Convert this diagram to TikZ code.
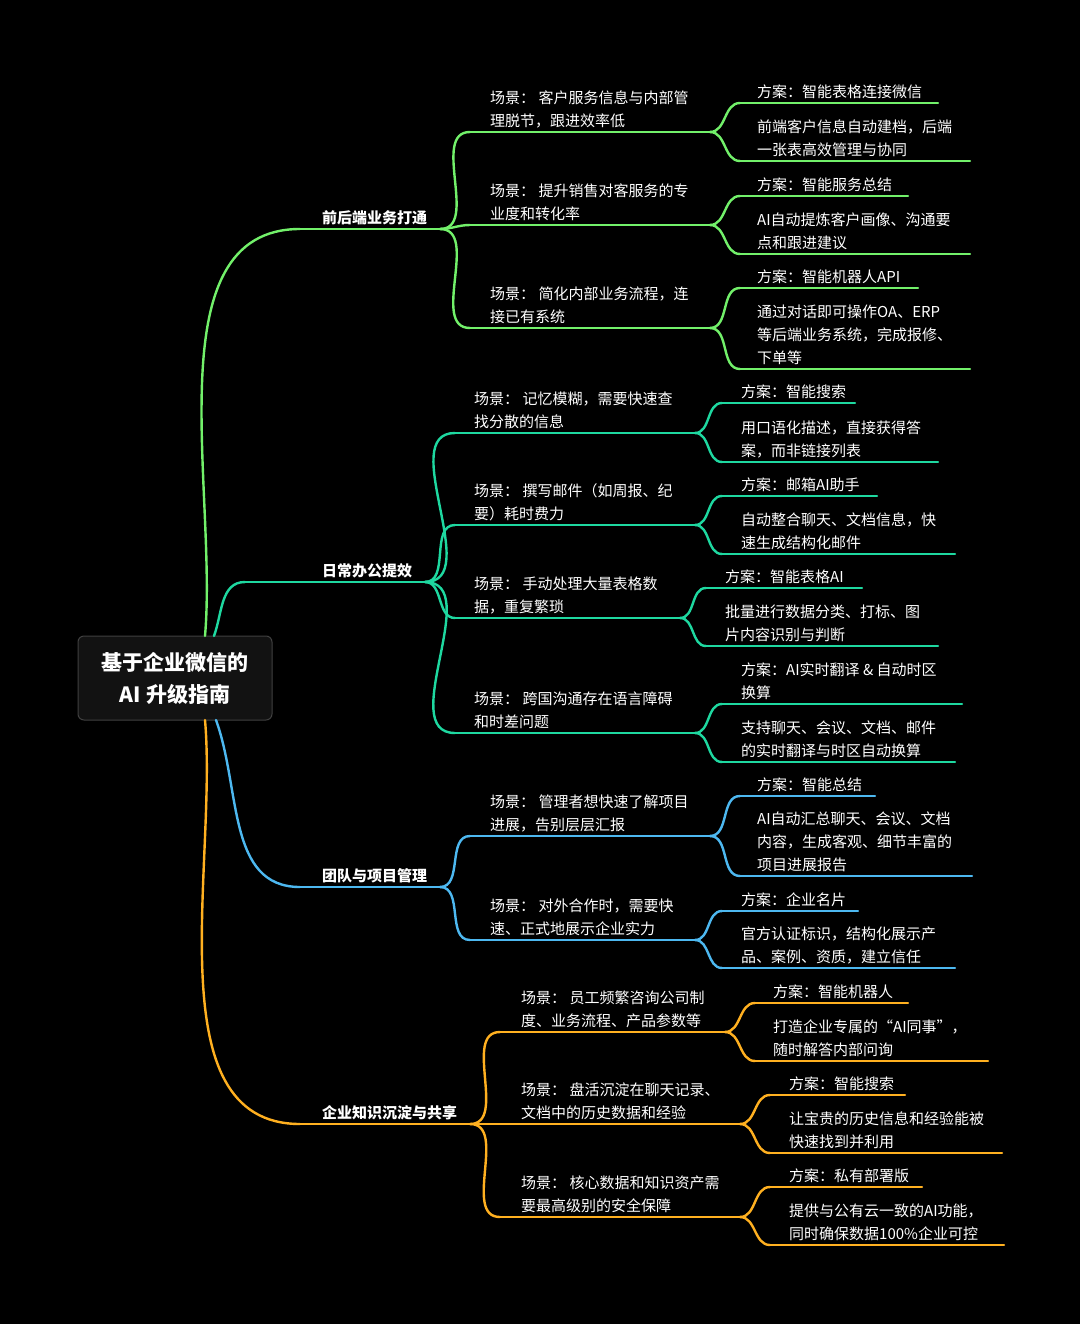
\documentclass[tikz,border=0pt]{standalone}
\usepackage{fontspec}
\setmainfont{Noto Sans CJK SC}
\definecolor{cg}{HTML}{72F06A}
\definecolor{ct}{HTML}{1ED8A0}
\definecolor{cb}{HTML}{4DB8F0}
\definecolor{co}{HTML}{FFB020}
\tikzset{line/.style={line width=2.4pt,line cap=round},
 txt/.style={text=white,inner sep=0pt,align=left,font=\fontsize{15}{23}\selectfont},
 bold/.style={font=\fontsize{15}{23}\selectfont\bfseries}}
\newcommand{\mm}[7]{\coordinate (#1s) at (#3,#5); \coordinate (#1e) at (#4,#5);
 \draw[line,#2] (#1s)--(#1e);
 \node[txt,anchor=south west] (#1) at (#6,#5-4) {#7};}
\newcommand{\cn}[3]{\draw[line,#3] (#1e) to[out=0,in=180] (#2s);}
\begin{document}
\begin{tikzpicture}[x=1pt,y=-1pt]
\fill[black] (0,0) rectangle (1080,1324);
\useasboundingbox (0,0) rectangle (1080,1324);
\node[draw=white!25!black,fill=white!7!black,rounded corners=6pt,line width=1pt,minimum width=194pt,minimum height=84pt,text=white,align=center,font=\fontsize{21}{32}\selectfont\bfseries] (root) at (175,678) {基于企业微信的\\AI 升级指南};
\coordinate (r1) at (205,636); \coordinate (r2) at (214,636);
\coordinate (r3) at (216,720); \coordinate (r4) at (205,720);
% level 1
\mm{a}{cg}{300}{440}{229}{322}{\textbf{前后端业务打通}}
\mm{b}{ct}{245}{425}{582}{322}{\textbf{日常办公提效}}
\mm{c}{cb}{300}{440}{887}{322}{\textbf{团队与项目管理}}
\mm{d}{co}{300}{470}{1124}{322}{\textbf{企业知识沉淀与共享}}
\draw[line,cg] (r1) to[out=85,in=180,looseness=0.9] (as);
\draw[line,ct] (r2) to[out=70,in=180] (bs);
\draw[line,cb] (r3) to[out=-70,in=180] (cs);
\draw[line,co] (r4) to[out=-85,in=180,looseness=0.9] (ds);
% green
\mm{a1}{cg}{470}{710}{132}{490}{场景： 客户服务信息与内部管\\理脱节，跟进效率低}
\mm{a2}{cg}{470}{710}{225}{490}{场景： 提升销售对客服务的专\\业度和转化率}
\mm{a3}{cg}{470}{710}{328}{490}{场景： 简化内部业务流程，连\\接已有系统}
\cn{a}{a1}{cg}\cn{a}{a2}{cg}\cn{a}{a3}{cg}
\mm{a11}{cg}{740}{938}{103}{757}{方案：智能表格连接微信}
\mm{a12}{cg}{740}{970}{161}{757}{前端客户信息自动建档，后端\\一张表高效管理与协同}
\mm{a21}{cg}{740}{908}{196}{757}{方案：智能服务总结}
\mm{a22}{cg}{740}{970}{254}{757}{AI自动提炼客户画像、沟通要\\点和跟进建议}
\mm{a31}{cg}{740}{918}{288}{757}{方案：智能机器人API}
\mm{a32}{cg}{740}{970}{369}{757}{通过对话即可操作OA、ERP\\等后端业务系统，完成报修、\\下单等}
\cn{a1}{a11}{cg}\cn{a1}{a12}{cg}\cn{a2}{a21}{cg}\cn{a2}{a22}{cg}\cn{a3}{a31}{cg}\cn{a3}{a32}{cg}
% teal
\mm{b1}{ct}{455}{695}{433}{474}{场景： 记忆模糊，需要快速查\\找分散的信息}
\mm{b2}{ct}{455}{695}{525}{474}{场景： 撰写邮件（如周报、纪\\要）耗时费力}
\mm{b3}{ct}{455}{680}{618}{474}{场景： 手动处理大量表格数\\据，重复繁琐}
\mm{b4}{ct}{455}{695}{733}{474}{场景： 跨国沟通存在语言障碍\\和时差问题}
\cn{b}{b1}{ct}\cn{b}{b2}{ct}\cn{b}{b3}{ct}\cn{b}{b4}{ct}
\mm{b11}{ct}{722}{855}{403}{741}{方案：智能搜索}
\mm{b12}{ct}{722}{938}{462}{741}{用口语化描述，直接获得答\\案，而非链接列表}
\mm{b21}{ct}{722}{877}{496}{741}{方案：邮箱AI助手}
\mm{b22}{ct}{722}{955}{554}{741}{自动整合聊天、文档信息，快\\速生成结构化邮件}
\mm{b31}{ct}{706}{862}{588}{725}{方案：智能表格AI}
\mm{b32}{ct}{706}{938}{646}{725}{批量进行数据分类、打标、图\\片内容识别与判断}
\mm{b41}{ct}{722}{962}{704}{741}{方案：AI实时翻译 \& 自动时区\\换算}
\mm{b42}{ct}{722}{955}{762}{741}{支持聊天、会议、文档、邮件\\的实时翻译与时区自动换算}
\cn{b1}{b11}{ct}\cn{b1}{b12}{ct}\cn{b2}{b21}{ct}\cn{b2}{b22}{ct}\cn{b3}{b31}{ct}\cn{b3}{b32}{ct}\cn{b4}{b41}{ct}\cn{b4}{b42}{ct}
% blue
\mm{c1}{cb}{470}{710}{836}{490}{场景： 管理者想快速了解项目\\进展，告别层层汇报}
\mm{c2}{cb}{470}{695}{940}{490}{场景： 对外合作时，需要快\\速、正式地展示企业实力}
\cn{c}{c1}{cb}\cn{c}{c2}{cb}
\mm{c11}{cb}{740}{875}{796}{757}{方案：智能总结}
\mm{c12}{cb}{740}{972}{876}{757}{AI自动汇总聊天、会议、文档\\内容，生成客观、细节丰富的\\项目进展报告}
\mm{c21}{cb}{722}{858}{911}{741}{方案：企业名片}
\mm{c22}{cb}{722}{955}{968}{741}{官方认证标识，结构化展示产\\品、案例、资质，建立信任}
\cn{c1}{c11}{cb}\cn{c1}{c12}{cb}\cn{c2}{c21}{cb}\cn{c2}{c22}{cb}
% orange
\mm{d1}{co}{500}{725}{1032}{521}{场景： 员工频繁咨询公司制\\度、业务流程、产品参数等}
\mm{d2}{co}{500}{740}{1124}{521}{场景： 盘活沉淀在聊天记录、\\文档中的历史数据和经验}
\mm{d3}{co}{500}{740}{1217}{521}{场景： 核心数据和知识资产需\\要最高级别的安全保障}
\cn{d}{d1}{co}\cn{d}{d2}{co}\cn{d}{d3}{co}
\mm{d11}{co}{755}{908}{1003}{773}{方案：智能机器人}
\mm{d12}{co}{755}{988}{1061}{773}{打造企业专属的“AI同事”，\\随时解答内部问询}
\mm{d21}{co}{770}{905}{1095}{789}{方案：智能搜索}
\mm{d22}{co}{770}{1002}{1153}{789}{让宝贵的历史信息和经验能被\\快速找到并利用}
\mm{d31}{co}{770}{922}{1187}{789}{方案：私有部署版}
\mm{d32}{co}{770}{1004}{1245}{789}{提供与公有云一致的AI功能，\\同时确保数据100\%企业可控}
\cn{d1}{d11}{co}\cn{d1}{d12}{co}\cn{d2}{d21}{co}\cn{d2}{d22}{co}\cn{d3}{d31}{co}\cn{d3}{d32}{co}
\end{tikzpicture}
\end{document}
